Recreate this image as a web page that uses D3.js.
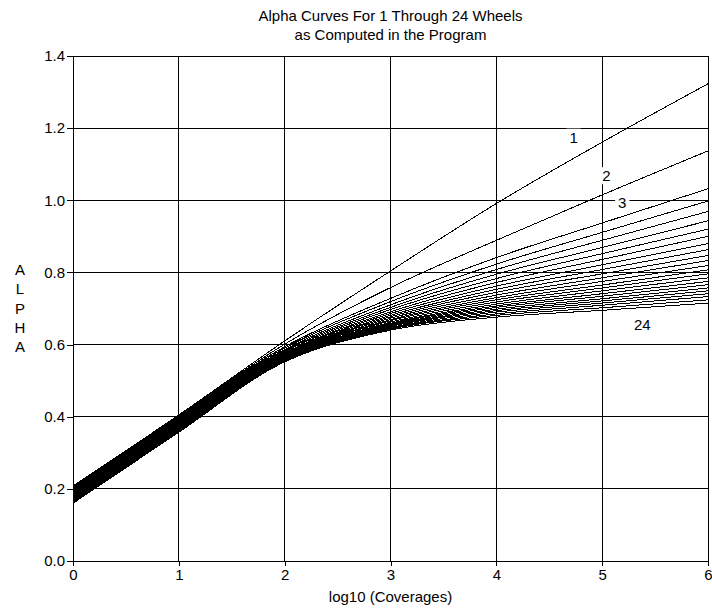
<!DOCTYPE html>
<html>
<head>
<meta charset="utf-8">
<script src="https://cdn.jsdelivr.net/npm/d3@7"></script>
<style>
  body { margin: 0; background: #fff; }
  svg text { font-family: "Liberation Sans", Arial, sans-serif; fill: #000; }
</style>
</head>
<body>
<svg id="chart" width="712" height="608"></svg>
<script>
// log10 of coverages where each alpha curve is sampled
const logCoverages = [0, 1, 2, 3, 4, 5, 6];

// number of wheels for each curve
const wheelCounts = [1, 2, 3, 4, 5, 6, 7, 8, 9, 10, 11, 12,
                     13, 14, 15, 16, 17, 18, 19, 20, 21, 22, 23, 24];

// alpha values, one row per wheel count, one column per log10(coverages)
const alphaByWheels = [
  [0.208, 0.405, 0.610, 0.804, 0.991, 1.161, 1.323],
  [0.206, 0.403, 0.601, 0.758, 0.889, 1.015, 1.137],
  [0.204, 0.401, 0.594, 0.728, 0.841, 0.937, 1.032],
  [0.202, 0.399, 0.590, 0.719, 0.823, 0.911, 0.998],
  [0.199, 0.396, 0.586, 0.710, 0.808, 0.889, 0.969],
  [0.197, 0.394, 0.583, 0.703, 0.795, 0.869, 0.943],
  [0.195, 0.392, 0.580, 0.697, 0.783, 0.852, 0.920],
  [0.193, 0.390, 0.577, 0.691, 0.772, 0.836, 0.900],
  [0.191, 0.388, 0.575, 0.686, 0.762, 0.821, 0.880],
  [0.189, 0.386, 0.573, 0.681, 0.753, 0.808, 0.863],
  [0.187, 0.384, 0.571, 0.677, 0.745, 0.796, 0.847],
  [0.185, 0.382, 0.569, 0.673, 0.737, 0.785, 0.833],
  [0.183, 0.380, 0.567, 0.669, 0.730, 0.775, 0.819],
  [0.181, 0.378, 0.565, 0.666, 0.724, 0.765, 0.807],
  [0.179, 0.376, 0.563, 0.662, 0.718, 0.757, 0.796],
  [0.177, 0.374, 0.562, 0.659, 0.712, 0.749, 0.785],
  [0.174, 0.371, 0.560, 0.657, 0.707, 0.741, 0.775],
  [0.172, 0.369, 0.559, 0.654, 0.703, 0.734, 0.766],
  [0.170, 0.367, 0.557, 0.652, 0.698, 0.727, 0.757],
  [0.168, 0.365, 0.556, 0.650, 0.694, 0.721, 0.749],
  [0.166, 0.363, 0.555, 0.647, 0.690, 0.715, 0.741],
  [0.164, 0.361, 0.554, 0.645, 0.685, 0.709, 0.733],
  [0.162, 0.359, 0.553, 0.643, 0.681, 0.702, 0.724],
  [0.160, 0.357, 0.552, 0.640, 0.676, 0.695, 0.715]
];

// axis ticks
const xTicks = [0, 1, 2, 3, 4, 5, 6];
const yTicks = [0, 0.2, 0.4, 0.6, 0.8, 1.0, 1.2, 1.4];
const yTickLabels = ["0.0", "0.2", "0.4", "0.6", "0.8", "1.0", "1.2", "1.4"];

// curve annotations (wheel count and where it is written)
const labelWheels = [1, 2, 3, 24];
const labelLogC = [4.73, 5.04, 5.19, 5.38];
const labelAlpha = [1.175, 1.068, 0.993, 0.655];

const titleLines = ["Alpha Curves For 1 Through 24 Wheels", "as Computed in the Program"];
const xTitle = "log10 (Coverages)";
const yTitle = "ALPHA";

const W = 712, H = 608;
const margin = { top: 56, right: 4, bottom: 47, left: 73 };
const svg = d3.select("#chart");

const x = d3.scaleLinear().domain([0, 6]).range([margin.left, W - margin.right]);
const y = d3.scaleLinear().domain([0, 1.4]).range([H - margin.bottom, margin.top]);

const FONT = 15;

// grid
const grid = svg.append("g")
  .attr("stroke", "#000").attr("stroke-width", 1)
  .attr("shape-rendering", "crispEdges");
grid.selectAll("line.v").data(xTicks).join("line")
  .attr("class", "v")
  .attr("x1", d => x(d)).attr("x2", d => x(d))
  .attr("y1", y(1.4)).attr("y2", y(0));
grid.selectAll("line.h").data(yTicks).join("line")
  .attr("class", "h")
  .attr("x1", x(0)).attr("x2", x(6))
  .attr("y1", d => y(d)).attr("y2", d => y(d));

// axes (ticks and labels only; the grid forms the frame)
const yAxis = d3.axisLeft(y).tickValues(yTicks)
  .tickFormat((d, i) => yTickLabels[i])
  .tickSize(6).tickSizeOuter(0).tickPadding(2);
const gy = svg.append("g")
  .attr("transform", `translate(${x(0)},0)`)
  .attr("shape-rendering", "crispEdges")
  .call(yAxis);
gy.select(".domain").remove();
gy.selectAll("line").attr("stroke", "#000");
gy.selectAll("text").attr("font-size", FONT)
  .attr("font-family", "Liberation Sans, Arial, sans-serif").attr("fill", "#000");

const xAxis = d3.axisBottom(x).tickValues(xTicks)
  .tickFormat(d3.format("d"))
  .tickSize(5).tickSizeOuter(0).tickPadding(3);
const gx = svg.append("g")
  .attr("transform", `translate(0,${y(0)})`)
  .attr("shape-rendering", "crispEdges")
  .call(xAxis);
gx.select(".domain").remove();
gx.selectAll("line").attr("stroke", "#000");
gx.selectAll("text").attr("font-size", FONT)
  .attr("font-family", "Liberation Sans, Arial, sans-serif").attr("fill", "#000");

// alpha curves
const line = d3.line()
  .x((d, i) => x(logCoverages[i]))
  .y(d => y(d))
  .curve(d3.curveCatmullRom.alpha(0.5));

svg.append("g")
  .attr("fill", "none").attr("stroke", "#000").attr("stroke-width", 1)
  .attr("shape-rendering", "crispEdges")
  .selectAll("path")
  .data(alphaByWheels)
  .join("path")
  .attr("class", (d, i) => `wheels-${wheelCounts[i]}`)
  .attr("d", line);

// curve labels on white patches
const labels = svg.append("g");
labelWheels.forEach((w, i) => {
  const g = labels.append("g");
  const t = g.append("text")
    .attr("x", x(labelLogC[i]))
    .attr("y", y(labelAlpha[i]))
    .attr("text-anchor", "middle")
    .attr("dominant-baseline", "central")
    .attr("font-size", FONT)
    .text(w);
  const b = t.node().getBBox();
  g.insert("rect", "text")
    .attr("x", b.x - 3).attr("y", b.y)
    .attr("width", b.width + 6).attr("height", b.height)
    .attr("fill", "#fff");
});

// titles
svg.append("text")
  .attr("x", (x(0) + x(6)) / 2).attr("y", 21)
  .attr("text-anchor", "middle").attr("font-size", FONT)
  .text(titleLines[0]);
svg.append("text")
  .attr("x", (x(0) + x(6)) / 2).attr("y", 40)
  .attr("text-anchor", "middle").attr("font-size", FONT)
  .text(titleLines[1]);

svg.append("text")
  .attr("x", (x(0) + x(6)) / 2).attr("y", 602)
  .attr("text-anchor", "middle").attr("font-size", FONT)
  .text(xTitle);

// vertical stacked y title
const yTitleText = svg.append("text")
  .attr("text-anchor", "middle").attr("font-size", FONT);
yTitle.split("").forEach((ch, i) => {
  yTitleText.append("tspan")
    .attr("x", 20)
    .attr("y", 275 + i * 19.25)
    .text(ch);
});
</script>
</body>
</html>
